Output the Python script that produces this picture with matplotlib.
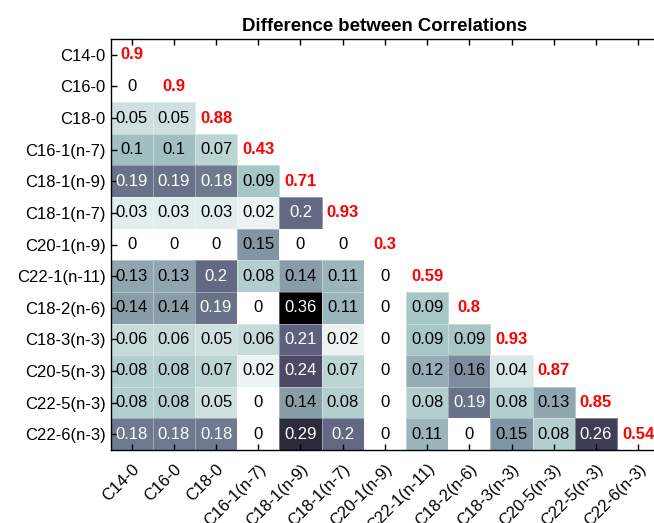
import numpy as np
import matplotlib
matplotlib.use("Agg")
import matplotlib.pyplot as plt

plt.rcParams['font.family'] = ['Liberation Sans', 'DejaVu Sans']

labels = ["C14-0", "C16-0", "C18-0", "C16-1(n-7)", "C18-1(n-9)", "C18-1(n-7)",
          "C20-1(n-9)", "C22-1(n-11)", "C18-2(n-6)", "C18-3(n-3)", "C20-5(n-3)",
          "C22-5(n-3)", "C22-6(n-3)"]

# correlations on the diagonal
diag = [0.9, 0.9, 0.88, 0.43, 0.71, 0.93, 0.3, 0.59, 0.8, 0.93, 0.87, 0.85, 0.54]

# lower triangle: differences, one row per variable
lower = [
    [],
    [0],
    [0.05, 0.05],
    [0.1, 0.1, 0.07],
    [0.19, 0.19, 0.18, 0.09],
    [0.03, 0.03, 0.03, 0.02, 0.2],
    [0, 0, 0, 0.15, 0, 0],
    [0.13, 0.13, 0.2, 0.08, 0.14, 0.11, 0],
    [0.14, 0.14, 0.19, 0, 0.36, 0.11, 0, 0.09],
    [0.06, 0.06, 0.05, 0.06, 0.21, 0.02, 0, 0.09, 0.09],
    [0.08, 0.08, 0.07, 0.02, 0.24, 0.07, 0, 0.12, 0.16, 0.04],
    [0.08, 0.08, 0.05, 0, 0.14, 0.08, 0, 0.08, 0.19, 0.08, 0.13],
    [0.18, 0.18, 0.18, 0, 0.29, 0.2, 0, 0.11, 0, 0.15, 0.08, 0.26],
]

n = len(labels)
mat = np.full((n, n), np.nan)
for i, row in enumerate(lower):
    for j, v in enumerate(row):
        mat[i, j] = v
mat = np.ma.masked_invalid(mat)

fig = plt.figure(figsize=(6.54, 5.23), dpi=100)
ax = fig.add_axes([0.169, 0.1396, 0.839, 0.7858])

vmax = 0.36
mesh = ax.pcolormesh(np.arange(n + 1), np.arange(n + 1), mat, cmap="bone_r",
                     vmin=0, vmax=vmax, linewidth=0.6)
# faint light edges only around the filled cells
edges = np.zeros((n * n, 4))
edges[~mat.mask.ravel()] = (1, 1, 1, 0.35)
mesh.set_edgecolor(edges)

for i, row in enumerate(lower):
    for j, v in enumerate(row):
        col = "white" if v >= vmax / 2 else "black"
        ax.text(j + 0.5, i + 0.5, "%g" % v, ha="center", va="center",
                fontsize=12, color=col)
    ax.text(i + 0.5, i + 0.5, "%g" % diag[i], ha="center", va="center",
            fontsize=12, color="red", fontweight="bold")

ax.set_xlim(0, n)
ax.set_ylim(n, 0)
ax.set_xticks(np.arange(n) + 0.5)
ax.set_yticks(np.arange(n) + 0.5)
ax.set_xticklabels(labels, rotation=45, ha="right", rotation_mode="anchor")
ax.set_yticklabels(labels)
ax.tick_params(direction="in", top=True, bottom=True, left=True, right=False,
               labelsize=12, length=4, width=1)
ax.tick_params(axis="x", pad=8)
ax.spines["right"].set_visible(False)
for s in ["top", "bottom", "left"]:
    ax.spines[s].set_linewidth(1)

ax.set_title("Difference between Correlations", fontsize=13.4, fontweight="bold")

fig.savefig("out.png", dpi=100)
